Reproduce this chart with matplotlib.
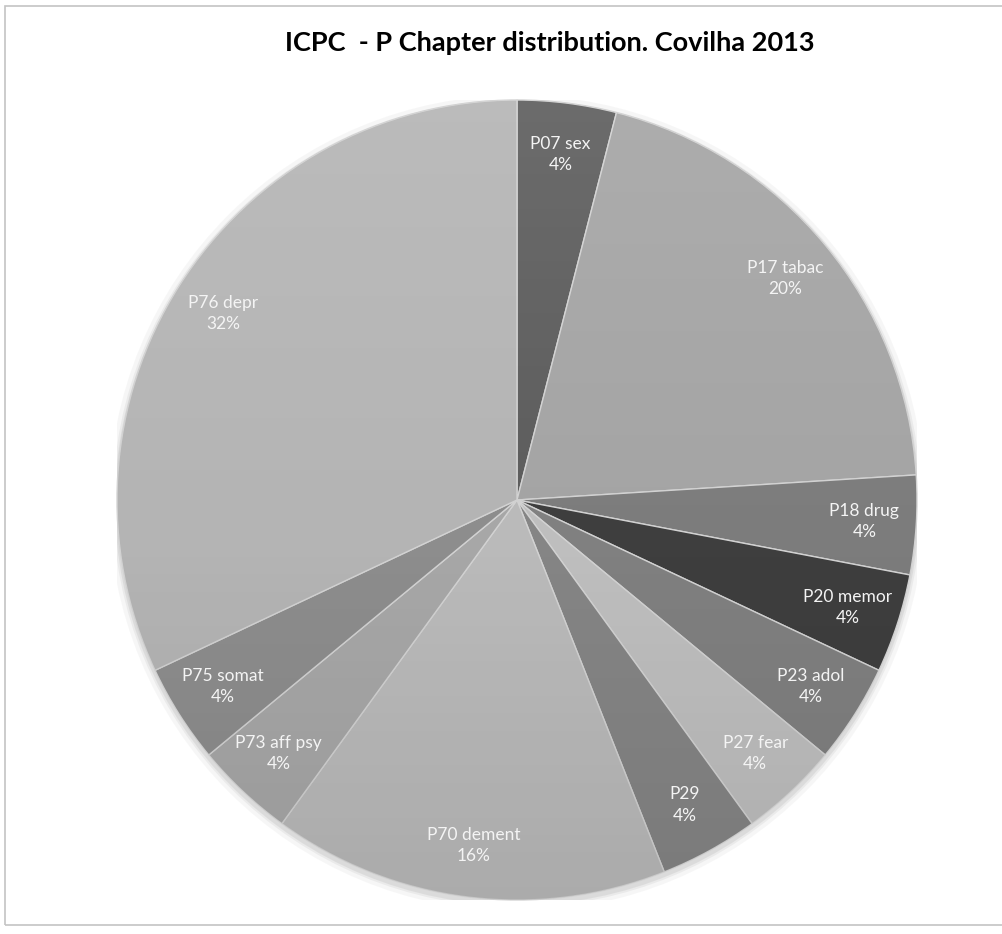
import numpy as np
import matplotlib
matplotlib.use("Agg")
import matplotlib.pyplot as plt
from matplotlib.patches import Rectangle, Circle

# ICPC P chapter, Covilha 2013 (percent of total)
names = ["P07 sex", "P17 tabac", "P18 drug", "P20 memor", "P23 adol", "P27 fear",
         "P29", "P70 dement", "P73 aff psy", "P75 somat", "P76 depr"]
pcts = [4, 20, 4, 4, 4, 4, 4, 16, 4, 4, 32]
colors = ["#5c5c5c", "#a4a4a4", "#7c7c7c", "#3e3e3e", "#808080", "#bebebe",
          "#858585", "#bababa", "#a7a7a7", "#8d8d8d", "#b4b4b4"]

plt.rcParams['font.family'] = ['Lato', 'DejaVu Sans']

fig = plt.figure(figsize=(10.02, 9.34), dpi=100)

# chart frame
frame = Rectangle((5 / 1002, 9 / 934), 1.0, 1 - 15 / 934, transform=fig.transFigure,
                  facecolor="none", edgecolor="#c4c4c4", linewidth=1.2, zorder=-1)
fig.patches.append(frame)

fig.text(0.549, 1 - 43 / 934, "ICPC  - P Chapter distribution. Covilha 2013",
         ha="center", va="center", fontsize=19.5, fontweight="bold", color="black")

ax = fig.add_axes([117 / 1002, 34 / 934, 800 / 1002, 800 / 934])
ax.set_aspect("equal")
ax.axis("off")

# soft shadow behind the pie
for r, a in [(1.02, 0.05), (1.01, 0.08), (1.005, 0.1)]:
    ax.add_patch(Circle((0.0, -0.008), r, facecolor="#606060", edgecolor="none", alpha=a, zorder=0))

wedges, texts = ax.pie(pcts, colors=colors, startangle=90, counterclock=False,
                       labels=[f"{n}\n{p}%" for n, p in zip(names, pcts)],
                       labeldistance=0.87, radius=1.0,
                       wedgeprops=dict(edgecolor="#d2d2d2", linewidth=1.0),
                       textprops=dict(color="#f4f4f4", fontsize=12.5, ha="center",
                                      va="center", linespacing=1.4))
for w in wedges:
    w.set_zorder(1)
for t in texts:
    t.set_ha("center")
    t.set_zorder(4)

# vertical light-to-dark shading over the pie
g = np.linspace(0, 1, 256)
shade = np.zeros((256, 1, 4))
shade[:, 0, 3] = np.abs(g - 0.45) * 0.18
shade[:, 0, :3] = np.where(g < 0.45, 0.0, 1.0)[:, None]
im = ax.imshow(shade, extent=(-1, 1, -1, 1), origin="lower", aspect="auto",
               interpolation="bilinear", zorder=2)
clip = Circle((0, 0), 1.0, transform=ax.transData)
im.set_clip_path(clip)
ax.set_xlim(-1.0, 1.0)
ax.set_ylim(-1.0, 1.0)

fig.savefig("out.png", dpi=100)
